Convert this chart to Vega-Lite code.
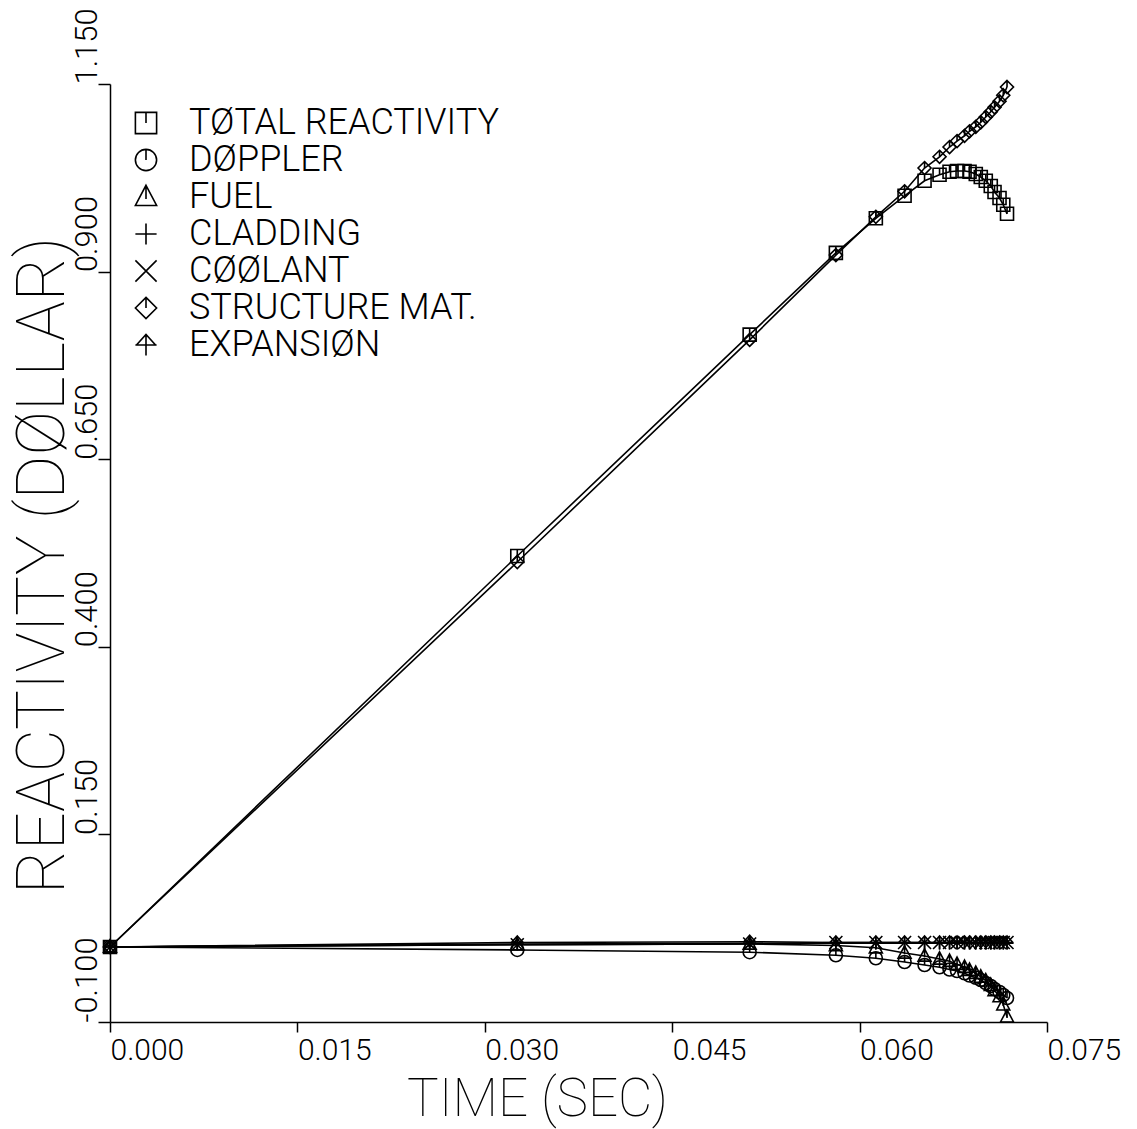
{
  "$schema": "https://vega.github.io/schema/vega-lite/v6.json",
  "autosize": {"type": "none"},
  "padding": {"left": 110, "top": 84, "right": 90, "bottom": 107},
  "width": 937,
  "height": 938,
  "background": "white",
  "config": {
    "view": {"stroke": null},
    "axis": {
      "grid": false,
      "domainColor": "black",
      "domainWidth": 1.5,
      "tickColor": "black",
      "tickWidth": 1.5,
      "labelColor": "black",
      "titleColor": "black",
      "labelFont": "Roboto",
      "titleFont": "Roboto",
      "labelFontWeight": 300,
      "titleFontWeight": 100
    }
  },
  "data": {
    "values": [
      {"s": "TØTAL REACTIVITY", "t": 0, "r": 0},
      {"s": "TØTAL REACTIVITY", "t": 0.0326, "r": 0.521},
      {"s": "TØTAL REACTIVITY", "t": 0.0512, "r": 0.816},
      {"s": "TØTAL REACTIVITY", "t": 0.0581, "r": 0.925},
      {"s": "TØTAL REACTIVITY", "t": 0.0613, "r": 0.971},
      {"s": "TØTAL REACTIVITY", "t": 0.0636, "r": 1.001},
      {"s": "TØTAL REACTIVITY", "t": 0.0652, "r": 1.021},
      {"s": "TØTAL REACTIVITY", "t": 0.0664, "r": 1.029},
      {"s": "TØTAL REACTIVITY", "t": 0.0672, "r": 1.033},
      {"s": "TØTAL REACTIVITY", "t": 0.0678, "r": 1.034},
      {"s": "TØTAL REACTIVITY", "t": 0.0684, "r": 1.034},
      {"s": "TØTAL REACTIVITY", "t": 0.0688, "r": 1.033},
      {"s": "TØTAL REACTIVITY", "t": 0.0693, "r": 1.030},
      {"s": "TØTAL REACTIVITY", "t": 0.0697, "r": 1.026},
      {"s": "TØTAL REACTIVITY", "t": 0.0701, "r": 1.021},
      {"s": "TØTAL REACTIVITY", "t": 0.0705, "r": 1.014},
      {"s": "TØTAL REACTIVITY", "t": 0.0708, "r": 1.006},
      {"s": "TØTAL REACTIVITY", "t": 0.0712, "r": 0.998},
      {"s": "TØTAL REACTIVITY", "t": 0.0715, "r": 0.989},
      {"s": "TØTAL REACTIVITY", "t": 0.0718, "r": 0.977},

      {"s": "DØPPLER", "t": 0, "r": 0},
      {"s": "DØPPLER", "t": 0.0326, "r": -0.004},
      {"s": "DØPPLER", "t": 0.0512, "r": -0.007},
      {"s": "DØPPLER", "t": 0.0581, "r": -0.011},
      {"s": "DØPPLER", "t": 0.0613, "r": -0.015},
      {"s": "DØPPLER", "t": 0.0636, "r": -0.020},
      {"s": "DØPPLER", "t": 0.0652, "r": -0.024},
      {"s": "DØPPLER", "t": 0.0664, "r": -0.027},
      {"s": "DØPPLER", "t": 0.0672, "r": -0.030},
      {"s": "DØPPLER", "t": 0.0678, "r": -0.032},
      {"s": "DØPPLER", "t": 0.0684, "r": -0.035},
      {"s": "DØPPLER", "t": 0.0688, "r": -0.038},
      {"s": "DØPPLER", "t": 0.0693, "r": -0.041},
      {"s": "DØPPLER", "t": 0.0697, "r": -0.044},
      {"s": "DØPPLER", "t": 0.0701, "r": -0.048},
      {"s": "DØPPLER", "t": 0.0705, "r": -0.052},
      {"s": "DØPPLER", "t": 0.0708, "r": -0.056},
      {"s": "DØPPLER", "t": 0.0712, "r": -0.060},
      {"s": "DØPPLER", "t": 0.0715, "r": -0.064},
      {"s": "DØPPLER", "t": 0.0718, "r": -0.068},

      {"s": "FUEL", "t": 0, "r": 0},
      {"s": "FUEL", "t": 0.0326, "r": 0.003},
      {"s": "FUEL", "t": 0.0512, "r": 0.004},
      {"s": "FUEL", "t": 0.0581, "r": 0.002},
      {"s": "FUEL", "t": 0.0613, "r": -0.001},
      {"s": "FUEL", "t": 0.0636, "r": -0.008},
      {"s": "FUEL", "t": 0.0652, "r": -0.012},
      {"s": "FUEL", "t": 0.0664, "r": -0.016},
      {"s": "FUEL", "t": 0.0672, "r": -0.019},
      {"s": "FUEL", "t": 0.0678, "r": -0.023},
      {"s": "FUEL", "t": 0.0684, "r": -0.027},
      {"s": "FUEL", "t": 0.0688, "r": -0.031},
      {"s": "FUEL", "t": 0.0693, "r": -0.035},
      {"s": "FUEL", "t": 0.0697, "r": -0.040},
      {"s": "FUEL", "t": 0.0701, "r": -0.045},
      {"s": "FUEL", "t": 0.0705, "r": -0.051},
      {"s": "FUEL", "t": 0.0708, "r": -0.058},
      {"s": "FUEL", "t": 0.0712, "r": -0.066},
      {"s": "FUEL", "t": 0.0715, "r": -0.077},
      {"s": "FUEL", "t": 0.0718, "r": -0.093},

      {"s": "CLADDING", "t": 0, "r": 0},
      {"s": "CLADDING", "t": 0.0326, "r": 0.004},
      {"s": "CLADDING", "t": 0.0512, "r": 0.005},
      {"s": "CLADDING", "t": 0.0581, "r": 0.005},
      {"s": "CLADDING", "t": 0.0613, "r": 0.005},
      {"s": "CLADDING", "t": 0.0636, "r": 0.005},
      {"s": "CLADDING", "t": 0.0652, "r": 0.005},
      {"s": "CLADDING", "t": 0.0664, "r": 0.005},
      {"s": "CLADDING", "t": 0.0672, "r": 0.005},
      {"s": "CLADDING", "t": 0.0678, "r": 0.005},
      {"s": "CLADDING", "t": 0.0684, "r": 0.005},
      {"s": "CLADDING", "t": 0.0688, "r": 0.005},
      {"s": "CLADDING", "t": 0.0693, "r": 0.005},
      {"s": "CLADDING", "t": 0.0697, "r": 0.005},
      {"s": "CLADDING", "t": 0.0701, "r": 0.005},
      {"s": "CLADDING", "t": 0.0705, "r": 0.005},
      {"s": "CLADDING", "t": 0.0708, "r": 0.005},
      {"s": "CLADDING", "t": 0.0712, "r": 0.005},
      {"s": "CLADDING", "t": 0.0715, "r": 0.005},
      {"s": "CLADDING", "t": 0.0718, "r": 0.005},

      {"s": "CØØLANT", "t": 0, "r": 0},
      {"s": "CØØLANT", "t": 0.0326, "r": 0.003},
      {"s": "CØØLANT", "t": 0.0512, "r": 0.004},
      {"s": "CØØLANT", "t": 0.0581, "r": 0.006},
      {"s": "CØØLANT", "t": 0.0613, "r": 0.006},
      {"s": "CØØLANT", "t": 0.0636, "r": 0.006},
      {"s": "CØØLANT", "t": 0.0652, "r": 0.006},
      {"s": "CØØLANT", "t": 0.0664, "r": 0.006},
      {"s": "CØØLANT", "t": 0.0672, "r": 0.006},
      {"s": "CØØLANT", "t": 0.0678, "r": 0.006},
      {"s": "CØØLANT", "t": 0.0684, "r": 0.006},
      {"s": "CØØLANT", "t": 0.0688, "r": 0.006},
      {"s": "CØØLANT", "t": 0.0693, "r": 0.006},
      {"s": "CØØLANT", "t": 0.0697, "r": 0.006},
      {"s": "CØØLANT", "t": 0.0701, "r": 0.006},
      {"s": "CØØLANT", "t": 0.0705, "r": 0.006},
      {"s": "CØØLANT", "t": 0.0708, "r": 0.006},
      {"s": "CØØLANT", "t": 0.0712, "r": 0.006},
      {"s": "CØØLANT", "t": 0.0715, "r": 0.006},
      {"s": "CØØLANT", "t": 0.0718, "r": 0.006},

      {"s": "STRUCTURE MAT.", "t": 0, "r": 0},
      {"s": "STRUCTURE MAT.", "t": 0.0326, "r": 0.513},
      {"s": "STRUCTURE MAT.", "t": 0.0512, "r": 0.809},
      {"s": "STRUCTURE MAT.", "t": 0.0581, "r": 0.922},
      {"s": "STRUCTURE MAT.", "t": 0.0613, "r": 0.973},
      {"s": "STRUCTURE MAT.", "t": 0.0636, "r": 1.007},
      {"s": "STRUCTURE MAT.", "t": 0.0652, "r": 1.038},
      {"s": "STRUCTURE MAT.", "t": 0.0664, "r": 1.053},
      {"s": "STRUCTURE MAT.", "t": 0.0672, "r": 1.066},
      {"s": "STRUCTURE MAT.", "t": 0.0678, "r": 1.074},
      {"s": "STRUCTURE MAT.", "t": 0.0684, "r": 1.081},
      {"s": "STRUCTURE MAT.", "t": 0.0688, "r": 1.087},
      {"s": "STRUCTURE MAT.", "t": 0.0693, "r": 1.093},
      {"s": "STRUCTURE MAT.", "t": 0.0697, "r": 1.099},
      {"s": "STRUCTURE MAT.", "t": 0.0701, "r": 1.106},
      {"s": "STRUCTURE MAT.", "t": 0.0705, "r": 1.113},
      {"s": "STRUCTURE MAT.", "t": 0.0708, "r": 1.119},
      {"s": "STRUCTURE MAT.", "t": 0.0712, "r": 1.127},
      {"s": "STRUCTURE MAT.", "t": 0.0715, "r": 1.135},
      {"s": "STRUCTURE MAT.", "t": 0.0718, "r": 1.146},

      {"s": "EXPANSIØN", "t": 0, "r": 0},
      {"s": "EXPANSIØN", "t": 0.0326, "r": 0.006},
      {"s": "EXPANSIØN", "t": 0.0512, "r": 0.007},
      {"s": "EXPANSIØN", "t": 0.0581, "r": 0.006},
      {"s": "EXPANSIØN", "t": 0.0613, "r": 0.006},
      {"s": "EXPANSIØN", "t": 0.0636, "r": 0.006},
      {"s": "EXPANSIØN", "t": 0.0652, "r": 0.006},
      {"s": "EXPANSIØN", "t": 0.0664, "r": 0.006},
      {"s": "EXPANSIØN", "t": 0.0672, "r": 0.006},
      {"s": "EXPANSIØN", "t": 0.0678, "r": 0.006},
      {"s": "EXPANSIØN", "t": 0.0684, "r": 0.006},
      {"s": "EXPANSIØN", "t": 0.0688, "r": 0.006},
      {"s": "EXPANSIØN", "t": 0.0693, "r": 0.006},
      {"s": "EXPANSIØN", "t": 0.0697, "r": 0.006},
      {"s": "EXPANSIØN", "t": 0.0701, "r": 0.006},
      {"s": "EXPANSIØN", "t": 0.0705, "r": 0.006},
      {"s": "EXPANSIØN", "t": 0.0708, "r": 0.006},
      {"s": "EXPANSIØN", "t": 0.0712, "r": 0.006},
      {"s": "EXPANSIØN", "t": 0.0715, "r": 0.006},
      {"s": "EXPANSIØN", "t": 0.0718, "r": 0.006}
    ]
  },
  "encoding": {
    "x": {
      "field": "t",
      "type": "quantitative",
      "scale": {"domain": [0, 0.075], "nice": false, "zero": false},
      "axis": {
        "title": "TIME (SEC)",
        "values": [0, 0.015, 0.03, 0.045, 0.06, 0.075],
        "format": ".3f",
        "labelAlign": "left",
        "labelBaseline": "top",
        "labelPadding": 3,
        "tickSize": 10,
        "labelFontSize": 30,
        "labelFlush": false,
        "labelOverlap": false,
        "titleFontSize": 53,
        "titleAnchor": "start",
        "titleAlign": "center",
        "titleBaseline": "alphabetic",
        "titleX": 427,
        "titleY": 93
      }
    },
    "y": {
      "field": "r",
      "type": "quantitative",
      "scale": {"domain": [-0.1, 1.15], "nice": false, "zero": false},
      "axis": {
        "title": "REACTIVITY (DØLLAR)",
        "values": [-0.1, 0.15, 0.4, 0.65, 0.9, 1.15],
        "labelExpr": "replace(format(datum.value, '.3f'), '\u2212', '-')",
        "labelAngle": 270,
        "labelAlign": "left",
        "labelBaseline": "alphabetic",
        "labelPadding": 2,
        "tickSize": 12,
        "labelFontSize": 31,
        "labelFlush": false,
        "labelOverlap": false,
        "titleFontSize": 67,
        "titleAngle": 270,
        "titleAlign": "center",
        "titleBaseline": "alphabetic",
        "titleX": -47,
        "titleY": 481
      }
    }
  },
  "layer": [
    {
      "mark": {"type": "line", "color": "black", "strokeWidth": 1.6},
      "encoding": {"detail": {"field": "s", "type": "nominal"}}
    },
    {
      "mark": {"type": "point", "filled": false, "color": "black", "strokeWidth": 1.6, "size": 169, "opacity": 1},
      "encoding": {
        "shape": {
          "field": "s",
          "type": "nominal",
          "scale": {
            "domain": ["TØTAL REACTIVITY", "DØPPLER", "FUEL", "CLADDING", "CØØLANT", "STRUCTURE MAT.", "EXPANSIØN"],
            "range": [
              "M-1,-1H1V1H-1Z M0,-1V0",
              "M-1,0A1,1 0 1,1 1,0A1,1 0 1,1 -1,0Z M0,-1V0",
              "M0,-1.1L1,0.8H-1Z M0,-1.1V0.2",
              "M-1,0H1 M0,-1V1",
              "M-1,-1L1,1 M-1,1L1,-1",
              "M0,-1L1,0L0,1L-1,0Z M0,-1V0",
              "M-1,0H1 M-0.9,0L0,-1L0.9,0 M0,-1V1"
            ]
          },
          "legend": {
            "title": null,
            "orient": "none",
            "legendX": 18,
            "legendY": 21,
            "padding": 0,
            "labelFont": "Roboto",
            "labelFontWeight": 300,
            "labelFontSize": 36,
            "labelColor": "black",
            "labelOffset": 25,
            "labelLimit": 0,
            "rowPadding": 1,
            "symbolSize": 450,
            "symbolStrokeWidth": 1.6,
            "symbolStrokeColor": "black",
            "symbolFillColor": "transparent",
            "symbolOpacity": 1
          }
        }
      }
    }
  ]
}
